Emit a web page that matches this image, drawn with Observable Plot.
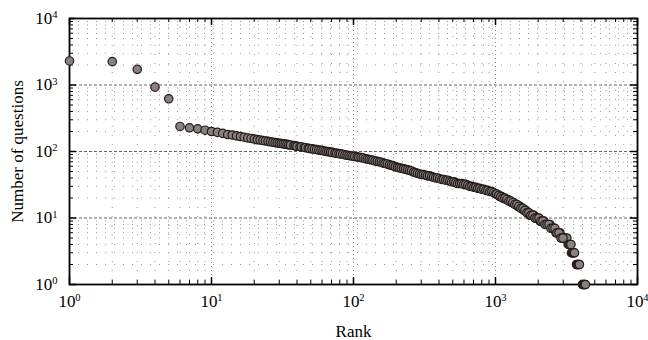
<!DOCTYPE html>
<html><head><meta charset="utf-8">
<script src="https://cdn.jsdelivr.net/npm/d3@7"></script>
<script src="https://cdn.jsdelivr.net/npm/@observablehq/plot@0.6"></script>
<style>body{margin:0;background:#fff}</style>
</head><body><div id="chart"></div>
<script>
const ranks = [
  1,2,3,4,5,6,7,8,9,10,11,12,13,14,15,16,17,18,19,
  20,21,22,23,24,25,26,27,28,29,
  30,31,32,33,34,35,36,38,39,40,
  42,43,45,46,48,49,51,53,55,57,
  59,61,63,65,67,69,71,74,76,79,
  81,84,87,90,93,96,99,102,106,109,
  113,117,121,125,129,133,137,142,147,152,
  157,162,167,173,179,185,191,197,204,210,
  217,225,232,240,248,256,265,273,282,292,
  301,311,322,332,343,355,366,379,391,404,
  418,431,446,460,476,491,508,524,542,560,
  578,597,617,638,659,681,703,726,750,775,
  801,827,855,883,912,942,973,1005,1038,1073,
  1108,1145,1183,1222,1262,1304,1347,1391,1437,1485,
  1534,1585,1637,1691,1747,1805,1864,1926,1989,2055,
  2123,2193,2265,2340,2418,2497,2580,2665,2753,2844,
  2938,3035,3100,3180,3250,3300,3350,3400,3430,3480,
  3520,3560,3600,3720,3770,3810,3860,3900,4100,4150,
  4200,4250,4300,
  1020,1055,1090,1126,1164,1202,1242,1283,1325,1369,
  1414,1461,1509,1559,1611,1664,1719,1776,1834,1895,
  1957,2022,2089,2158,2229,2302,2379,2457,2538,2622,
  2709,2798,2891,2986
];
const counts = [
  2300,2250,1720,930,620,238,227,219,209,200,194,187,180,177,172,168,164,160,157,
  154,151,149,146,144,142,140,138,136,135,
  133,132,130,129,128,126,125,123,122,120,
  118,117,115,114,112,111,110,108,107,105,
  104,103,101,100,99,98,97,95,94,93,
  92,91,89,88,87,86,85,84,83,82,
  81,80,78,77,76,75,74,72,71,70,
  69,67,66,65,63,62,61,59,58,57,
  56,55,54,53,52,51,49,48,47,46,
  45,45,44,43,43,42,41,40,40,39,
  38,38,37,37,36,35,35,34,33,33,
  33,32,32,31,30,30,29,29,28,28,
  27,27,26,26,25,25,24,23,22,21,
  21,20,19,19,18,17,17,16,15,15,
  14,13,13,12,11,11,11,10,10,9,
  9,9,8,8,8,7,7,6,6,6,
  5,5,5,5,4,4,4,4,3,3,
  3,3,3,2,2,2,2,2,1,1,
  1,1,1,
  23,22,21,20,20,19,18,18,17,16,
  16,15,14,14,13,12,12,11,11,10,
  10,10,9,9,8,8,8,7,7,7,
  6,6,5,5
];
const xTicks = [1,10,100,1000,10000];
const yTicks = [1,10,100,1000,10000];
const gridMajor = [10,100,1000];
const xLabel = "Rank";
const yLabel = "Number of questions";

const data = ranks.map((r,i)=>({rank:r, count:counts[i]}));
const W = 648, H = 340, mt = 18, mb = 56, ml = 69, mr = 11;
const ph = H - mt - mb, pw = W - ml - mr;
const minor = d3.scaleLog().domain([1,1e4]).ticks().filter(t => !xTicks.includes(t));
const fmt = d => `10^${Math.round(Math.log10(d))}`;

const chart = Plot.plot({
  width: W, height: H,
  marginTop: mt, marginBottom: mb, marginLeft: ml, marginRight: mr,
  style: {fontFamily: "'Liberation Serif', 'Times New Roman', serif", fontSize: "17px", background: "#fff", color: "#000"},
  x: {type: "log", domain: [1,1e4], ticks: xTicks, tickFormat: fmt, tickSize: 0, tickPadding: 10,
      label: xLabel, labelAnchor: "center", labelOffset: 52, labelArrow: "none"},
  y: {type: "log", domain: [1,1e4], ticks: yTicks, tickFormat: fmt, tickSize: 0, tickPadding: 12,
      label: yLabel, labelAnchor: "center", labelOffset: 59, labelArrow: "none"},
  marks: [
    Plot.ruleX(minor, {stroke: "#999", strokeDasharray: "1,8", strokeWidth: 1}),
    Plot.ruleY(minor, {stroke: "#999", strokeDasharray: "1,8", strokeWidth: 1}),
    Plot.ruleX(gridMajor, {stroke: "#888", strokeDasharray: "1,3", strokeWidth: 1}),
    Plot.ruleY(gridMajor, {stroke: "#666", strokeDasharray: "3,2", strokeWidth: 1}),
    Plot.ruleX(xTicks, {insetTop: ph - 7, stroke: "#000", strokeWidth: 1.5}),
    Plot.ruleX(xTicks, {insetBottom: ph - 7, stroke: "#000", strokeWidth: 1.5}),
    Plot.ruleX(minor, {insetTop: ph - 4, stroke: "#000", strokeWidth: 1}),
    Plot.ruleX(minor, {insetBottom: ph - 4, stroke: "#000", strokeWidth: 1}),
    Plot.ruleY(yTicks, {insetRight: pw - 7, stroke: "#000", strokeWidth: 1.5}),
    Plot.ruleY(yTicks, {insetLeft: pw - 7, stroke: "#000", strokeWidth: 1.5}),
    Plot.ruleY(minor, {insetRight: pw - 4, stroke: "#000", strokeWidth: 1}),
    Plot.ruleY(minor, {insetLeft: pw - 4, stroke: "#000", strokeWidth: 1}),
    Plot.frame({stroke: "#000", strokeWidth: 1.8}),
    Plot.dot(data, {x: "rank", y: "count", r: 4.2, fill: "#8a8080", stroke: "#241a1a", strokeWidth: 1.2})
  ]
});

d3.select(chart).selectAll('g[aria-label="x-axis tick label"] text, g[aria-label="y-axis tick label"] text').each(function(){
  const m = this.textContent.match(/^10\^(\d)$/);
  if (!m) return;
  const sel = d3.select(this);
  sel.text(null);
  sel.append("tspan").text("10");
  sel.append("tspan").attr("dy", "-0.55em").attr("font-size", "0.62em").text(m[1]);
});

document.getElementById("chart").appendChild(chart);
</script>
</body></html>
